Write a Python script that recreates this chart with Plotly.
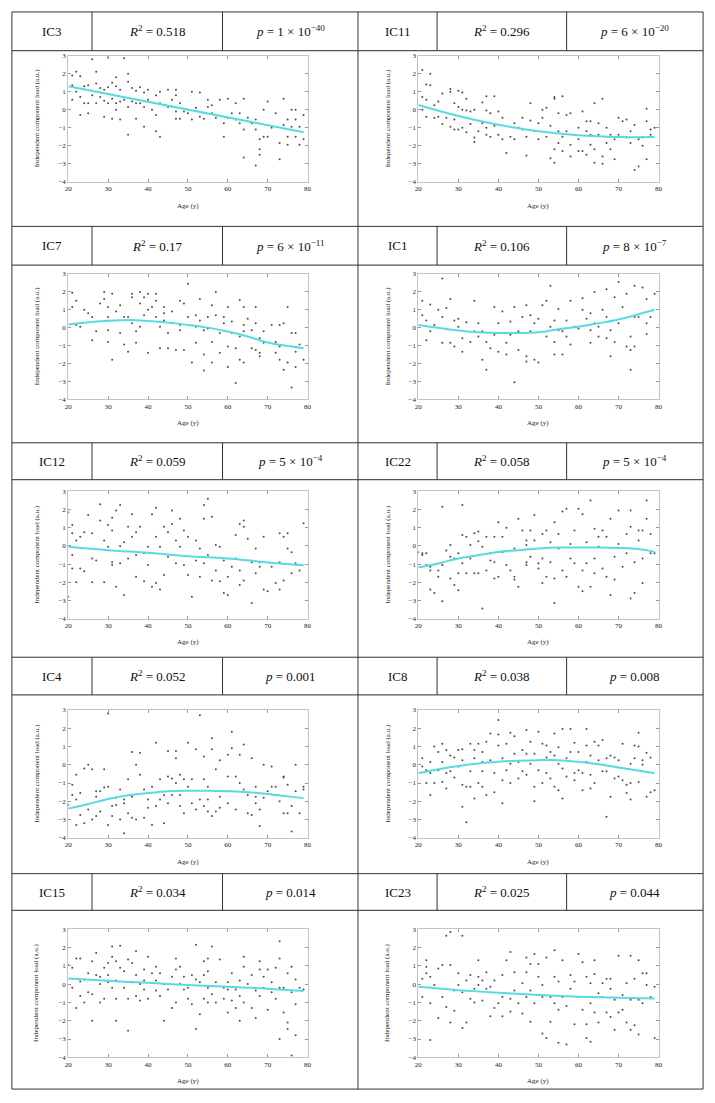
import plotly.graph_objects as go

W, H = 715, 1103

# ---------------- data ----------------
PANEL_NAMES = ["IC3", "IC11", "IC7", "IC1", "IC12", "IC22", "IC4", "IC8", "IC15", "IC23"]
R2_VALUES = ["0.518", "0.296", "0.17", "0.106", "0.059", "0.058", "0.052", "0.038", "0.034", "0.025"]
P_VALUES = ["1 × 10<sup>−40</sup>", "6 × 10<sup>−20</sup>", "6 × 10<sup>−11</sup>", "8 × 10<sup>−7</sup>",
            "5 × 10<sup>−4</sup>", "5 × 10<sup>−4</sup>", "0.001", "0.008", "0.014", "0.044"]
AGE_TICKS = [20, 30, 40, 50, 60, 70, 80]
LOAD_TICKS = [-4, -3, -2, -1, 0, 1, 2, 3]

IC3_points = [(22,2.1),(21,1.9),(23,1.85),(26,2.8),(27,2.1),(30,2.9),(34,2.85),(35,2.0),
 (21,1.35),(22,1.0),(24,1.3),(25,1.35),(27,1.45),(28,1.2),(29,1.1),(30,1.25),(31,1.5),(32,1.8),(32,1.3),(33,1.1),
 (35,1.55),(36,1.2),(37,1.05),(38,1.25),(39,0.95),(40,1.1),(42,0.8),(43,1.0),(45,1.1),(47,1.1),(47,0.8),(48,0.35),
 (51,1.0),(53,0.95),(21,0.55),(23,0.7),(24,0.35),(25,0.35),(26,0.8),(27,0.35),(28,0.7),(29,0.5),(30,0.35),(31,0.6),
 (32,0.35),(32,0.0),(33,0.45),(34,0.55),(35,0.15),(36,0.45),(37,0.35),(38,0.35),(39,0.15),(40,0.55),(41,0.0),
 (42,-0.3),(43,0.35),(44,0.25),(45,0.15),(46,0.55),(47,-0.1),(47,-0.5),(48,-0.5),(49,-0.1),(50,-0.2),(51,-0.55),
 (52,0.1),(53,-0.4),(54,-0.5),(55,0.55),(55,0.15),(56,-0.2),(56,0.25),(57,-0.45),(58,0.55),(59,-0.75),(59,-1.5),
 (60,0.6),(60,-0.45),(61,-0.2),(62,0.35),(62,-0.55),(63,-0.2),(63,-0.75),(64,-1.1),(64,0.6),(64,-2.65),(65,-0.45),
 (66,-0.75),(67,-0.55),(67,-3.1),(67,-1.1),(68,-1.65),(68,-2.2),(68,-2.5),(69,-1.5),(69,0.0),(70,-1.5),(70,0.45),
 (71,-1.0),(72,-0.2),(73,-2.75),(73,-1.85),(74,-0.85),(74,0.6),(75,-1.5),(75,-1.95),(75,-0.55),(76,-0.95),(76,0.0),
 (77,-1.5),(77,0.0),(77,-0.55),(78,-1.95),(78,-0.95),(79,-0.3),(79,-1.65),(35,-1.4),(39,-0.95),(42,-1.2),(43,-1.5),
 (29,-0.4),(31,-0.5),(33,-0.55),(23,-0.3),(25,-0.2),(37,-0.5)]
IC3_fit = [(20,1.3),(79,-1.25)]

IC11_points = [(21,2.2),(23,2.0),(22,1.4),(23,1.35),(21,0.7),(22,0.55),(24,0.25),(25,0.45),(26,0.9),(28,1.15),(28,1.0),
 (30,1.05),(31,0.95),(32,0.6),(29,0.35),(30,0.15),(31,0.0),(32,-0.05),(33,-0.1),(34,0.0),(36,0.4),(37,-0.05),(38,-0.2),
 (37,0.75),(39,0.75),(40,-0.1),(41,-0.45),(21,0.0),(22,-0.4),(24,-0.45),(25,-0.4),(26,-0.8),(27,-0.45),(28,-0.95),
 (29,-0.55),(29,-1.1),(30,-1.1),(31,-1.0),(32,-1.25),(33,-0.8),(34,-1.55),(34,-1.8),(35,-1.2),(36,-0.75),(37,-1.4),
 (37,-1.0),(38,-1.5),(39,-0.9),(40,-1.4),(41,-1.65),(42,-2.4),(43,-1.5),(44,-0.75),(44,-1.65),(45,-1.0),(46,-0.45),
 (46,-1.1),(47,-2.55),(47,-1.5),(48,0.35),(48,-0.6),(49,-1.2),(50,-1.65),(50,-0.75),(51,0.0),(51,-0.45),(52,0.1),
 (52,-1.5),(53,-0.9),(53,-2.7),(54,0.7),(54,-2.2),(54,0.6),(54,-2.95),(55,-1.85),(55,-0.2),(55,-1.2),(56,0.75),
 (56,-1.5),(56,-2.3),(57,-0.3),(57,-1.2),(58,-2.6),(58,-0.2),(58,-1.95),(59,-1.4),(60,-2.3),(60,-1.0),(60,-1.65),
 (61,-2.3),(61,-0.1),(62,-0.65),(62,-1.2),(62,-2.5),(63,-1.95),(63,-0.65),(63,-1.4),(64,0.35),(64,-2.2),(64,-2.95),
 (65,-0.75),(65,-1.4),(66,-2.6),(66,0.6),(66,-3.0),(67,-1.0),(67,-1.85),(68,-2.2),(68,-1.4),(69,-1.65),(69,-2.75),
 (70,-0.45),(70,-1.4),(71,-0.65),(72,-1.55),(72,-0.55),(73,-1.85),(73,-1.2),(74,-0.85),(74,-3.35),(75,-3.15),
 (75,-1.65),(76,-2.0),(76,-1.55),(77,0.05),(77,-0.65),(77,-2.75),(78,-1.1),(78,-1.4),(79,-1.0)]
IC11_fit = [(20,0.26),(30,-0.35),(40,-0.84),(50,-1.2),(60,-1.42),(70,-1.52),(79,-1.52)]

IC7_points = [(21,1.95),(22,1.5),(21,1.15),(22,0.15),(23,0.05),(24,1.0),(25,0.8),(26,0.6),(26,-0.7),(27,-0.2),(28,1.35),
 (29,1.6),(29,2.0),(30,0.6),(30,1.15),(30,-0.15),(30,-0.8),(31,-1.8),(31,1.9),(32,0.9),(33,1.25),(33,-0.3),(34,0.6),
 (34,-0.95),(35,0.6),(35,-1.35),(36,1.7),(36,1.9),(36,0.25),(37,-0.2),(37,-0.85),(38,2.0),(38,1.35),(38,0.05),(39,0.7),
 (39,1.7),(40,1.9),(40,1.0),(40,-1.4),(41,1.15),(42,0.6),(42,1.9),(42,1.5),(43,0.05),(43,-1.15),(44,1.15),(44,0.8),
 (44,0.4),(45,-1.15),(45,-0.3),(46,0.25),(46,0.9),(47,-1.25),(48,0.15),(48,1.5),(48,-0.15),(49,1.35),(49,-1.25),
 (50,2.45),(50,0.6),(51,-1.95),(52,0.05),(52,0.7),(52,-0.85),(53,0.4),(53,1.6),(54,-0.15),(54,-1.5),(54,-2.4),(55,0.6),
 (55,-0.05),(56,-0.8),(56,-1.95),(56,1.25),(57,2.0),(57,0.7),(58,-0.3),(58,-1.4),(59,0.25),(59,0.6),(60,1.15),(60,-1.05),
 (60,-2.2),(61,-0.3),(61,0.35),(62,-1.15),(62,-3.1),(63,1.55),(63,-1.8),(63,-0.5),(64,0.15),(64,1.15),(64,-1.95),
 (64,-0.2),(65,0.5),(66,-0.15),(66,-1.15),(67,1.15),(67,0.25),(67,-1.25),(68,-0.6),(68,-1.6),(68,-1.4),(69,-0.2),
 (69,-0.85),(71,0.15),(72,-0.8),(72,-1.4),(73,-1.8),(73,0.15),(73,-1.05),(74,-2.35),(74,0.25),(75,1.15),(75,-1.95),
 (76,-3.35),(76,-0.3),(77,-2.2),(77,-0.3),(77,-1.35),(78,-0.95),(79,-1.8)]
IC7_fit = [(20,0.18),(30,0.38),(37,0.42),(45,0.28),(50,0.15),(55,0.0),(60,-0.22),(65,-0.5),(70,-0.83),(79,-1.15)]

IC1_points = [(21,1.5),(21,0.7),(23,1.3),(22,0.4),(23,-0.2),(24,0.15),(22,-0.7),(25,1.0),(26,2.75),(26,0.6),(26,-0.85),
 (27,1.1),(28,1.6),(28,-0.85),(29,0.4),(29,-1.05),(30,0.5),(30,0.05),(31,-0.6),(31,-1.35),(32,0.3),(33,-0.8),(34,-0.2),
 (34,1.5),(35,0.25),(35,-0.5),(36,-1.8),(36,-0.2),(37,-2.35),(37,-0.8),(38,-1.15),(39,1.15),(39,-0.4),(40,-1.35),
 (40,0.25),(41,0.9),(42,-0.85),(42,-1.5),(43,0.35),(43,-0.4),(44,1.15),(44,-3.05),(45,-1.25),(45,-0.2),(46,0.6),
 (47,1.25),(47,-1.6),(47,-1.9),(48,-0.2),(48,0.7),(49,0.25),(49,-1.8),(50,-1.95),(50,0.5),(51,1.25),(52,-0.5),(52,1.5),
 (53,0.05),(53,2.35),(54,-1.5),(54,0.4),(54,-0.8),(55,1.05),(55,-0.15),(56,-1.5),(56,-0.2),(57,0.4),(57,-0.5),
 (58,1.5),(58,-0.95),(59,0.05),(60,-0.05),(61,1.0),(61,1.65),(62,0.5),(63,-0.85),(63,-0.15),(63,0.8),(64,2.0),
 (64,0.25),(65,-0.5),(65,0.05),(66,1.0),(67,-0.6),(67,2.15),(67,0.6),(68,-1.6),(68,-0.15),(69,1.7),(69,-0.8),(70,2.55),
 (70,0.25),(71,1.15),(72,1.9),(72,-1.05),(73,-0.5),(73,-2.35),(73,-1.25),(74,0.6),(74,2.35),(74,-1.05),(75,0.6),
 (76,2.25),(77,0.25),(77,-0.35),(77,1.6),(78,0.6),(79,1.9)]
IC1_fit = [(20,0.15),(29,-0.13),(35,-0.26),(40,-0.3),(45,-0.3),(50,-0.26),(55,-0.09),(60,0.05),(65,0.24),(70,0.46),(75,0.75),(79,1.0)]

IC12_points = [(20,1.85),(21,1.15),(21,-0.5),(21,0.7),(21,-1.25),(20,-2.8),(22,0.3),(22,-2.0),(23,0.5),(23,-1.25),
 (24,0.75),(24,-1.4),(25,1.7),(26,-0.7),(26,-2.0),(26,0.7),(27,-0.8),(28,2.3),(28,1.4),(29,0.3),(29,-2.0),(30,1.15),
 (30,-0.05),(31,1.55),(31,-0.9),(31,0.85),(31,-1.05),(32,1.95),(32,-2.25),(33,0.0),(33,2.25),(33,-0.95),(34,0.2),
 (34,-2.7),(35,1.05),(35,-0.7),(36,0.5),(36,1.75),(37,-0.5),(37,0.75),(37,-1.7),(38,1.05),(39,-0.4),(39,-1.95),
 (40,-0.05),(40,-1.05),(41,1.75),(41,-2.25),(42,0.5),(42,2.1),(42,-2.05),(43,-2.4),(43,-0.05),(44,1.05),(44,-1.6),
 (45,-0.6),(45,0.75),(46,1.95),(46,1.2),(47,0.3),(47,-0.95),(48,1.5),(48,-0.05),(49,-1.05),(49,0.85),(50,-1.6),
 (50,0.5),(51,-2.8),(52,0.3),(52,-0.8),(53,-1.7),(53,-0.15),(54,2.25),(54,1.5),(54,-0.95),(55,2.6),(55,-0.5),
 (56,-1.9),(56,1.6),(57,0.05),(57,-1.35),(58,-1.95),(58,-0.05),(59,-0.8),(59,-2.6),(60,-1.7),(60,-2.7),(61,-1.15),
 (62,0.6),(62,-0.7),(63,1.2),(63,-2.15),(63,-1.35),(64,1.05),(64,1.4),(64,-1.9),(65,0.4),(66,-0.9),(66,-3.15),
 (67,-0.15),(67,-1.5),(68,-1.15),(68,-0.9),(69,-2.4),(69,0.5),(70,-2.5),(71,-1.15),(72,-2.05),(73,-2.4),(73,0.7),
 (73,-0.9),(74,0.5),(74,-1.9),(75,0.7),(75,-0.15),(76,-1.5),(76,-0.35),(77,-0.95),(78,-1.35),(79,1.25)]
IC12_fit = [(20,-0.05),(30,-0.24),(40,-0.38),(50,-0.57),(60,-0.69),(70,-0.91),(79,-1.06)]

IC22_points = [(20,-0.35),(21,-0.5),(21,-0.4),(22,-1.05),(22,-0.4),(23,-1.15),(23,-1.35),(23,-2.4),(24,-2.6),(25,-1.7),
 (25,-1.35),(26,2.15),(26,-3.05),(26,-1.05),(27,-0.25),(28,-0.6),(28,0.05),(28,-1.8),(29,-2.15),(29,-0.7),(30,-2.45),
 (30,-1.5),(30,-0.4),(31,2.25),(31,0.6),(31,-0.95),(32,0.5),(32,-1.5),(33,-0.7),(33,0.05),(34,-1.5),(34,0.7),(35,-1.5),
 (35,0.25),(35,0.8),(36,-0.05),(36,-3.45),(37,-1.35),(37,0.5),(38,-0.4),(38,-0.8),(39,0.5),(39,-1.8),(39,-0.9),
 (40,1.3),(40,-1.7),(41,0.5),(41,-0.35),(42,-1.05),(42,1.0),(43,-1.35),(44,-1.85),(44,-1.7),(44,-0.15),(45,-2.25),
 (45,1.5),(46,0.85),(47,-0.9),(47,0.05),(47,0.3),(47,-1.05),(48,0.85),(48,-0.6),(49,1.7),(49,0.3),(50,-0.95),
 (50,-1.25),(51,0.65),(51,-2.05),(51,-0.7),(52,0.85),(52,-1.7),(53,-0.9),(53,0.2),(54,-3.15),(54,1.3),(54,-1.8),
 (55,-0.15),(55,0.65),(56,-1.35),(56,1.9),(57,-1.7),(57,2.05),(58,-0.7),(58,0.1),(59,0.85),(59,-0.95),(60,-2.25),
 (60,2.05),(61,-1.35),(61,-2.5),(61,1.75),(62,0.2),(62,-0.95),(63,2.5),(63,-2.25),(64,-0.7),(64,0.95),(64,-1.5),
 (65,0.5),(65,-0.05),(66,-1.25),(66,0.85),(67,-1.7),(67,0.5),(68,1.5),(68,-2.7),(69,-0.6),(69,-1.85),(70,1.95),
 (70,0.1),(71,-1.15),(72,0.65),(72,-0.4),(73,1.95),(73,-2.9),(73,1.05),(74,-0.9),(74,-2.6),(75,0.85),(75,0.3),
 (76,-0.7),(76,-2.05),(76,0.85),(77,1.5),(77,2.5),(78,-0.4),(78,0.65),(79,-0.4)]
IC22_fit = [(20,-1.19),(25,-0.97),(30,-0.69),(35,-0.51),(40,-0.33),(45,-0.24),(50,-0.14),(55,-0.09),(60,-0.09),(65,-0.09),(70,-0.11),(75,-0.17),(79,-0.33)]

IC4_points = [(20,-2.2),(21,-1.65),(21,-1.1),(22,-3.3),(22,-0.55),(22,-1.9),(23,-2.75),(23,-1.55),(24,-3.2),(24,-0.2),
 (25,0.0),(25,-2.45),(26,-3.0),(26,-0.25),(27,-1.75),(27,-2.8),(27,-1.45),(28,-2.55),(28,-1.45),(29,-0.25),(29,-1.25),
 (30,-3.3),(30,-1.2),(30,2.8),(31,-2.25),(31,-2.8),(32,-1.8),(32,-2.2),(33,-3.0),(33,-1.35),(34,-2.1),(34,-3.75),
 (34,-1.9),(35,-2.65),(35,-0.8),(36,-2.9),(36,0.7),(36,-1.75),(37,-3.0),(37,0.0),(38,-0.55),(38,0.65),(39,-1.35),
 (39,-2.9),(40,-2.35),(40,-1.9),(41,-1.2),(41,-3.3),(42,1.2),(42,-2.25),(43,-0.8),(43,-1.9),(44,-3.2),(44,-1.65),
 (45,-0.65),(45,0.75),(45,-2.1),(46,-0.75),(46,-1.65),(47,0.75),(47,0.35),(47,-1.0),(48,-2.25),(48,-0.55),(48,-1.65),
 (49,-0.8),(49,-2.65),(50,1.2),(50,-1.2),(51,-2.1),(51,-0.8),(52,-2.45),(52,0.85),(53,-1.9),(53,2.7),(54,-2.25),
 (54,-0.8),(54,0.45),(55,-1.2),(55,-2.55),(55,-1.9),(56,-2.8),(56,1.45),(56,0.85),(57,-0.25),(57,-2.55),(58,-1.75),
 (58,0.25),(58,-2.35),(59,-1.45),(60,-0.65),(60,0.55),(60,-2.1),(61,1.8),(61,0.9),(62,-0.65),(62,-2.45),(63,0.55),
 (63,-1.0),(64,1.1),(64,-1.35),(65,-2.65),(65,-1.65),(66,-2.75),(66,0.35),(67,-1.75),(67,-2.1),(67,-1.2),(68,-3.35),
 (68,-2.45),(69,-1.8),(69,0.0),(70,-1.45),(71,-0.1),(71,-1.2),(72,-1.65),(72,-1.2),(73,-2.0),(74,-0.7),(74,-0.65),
 (74,-2.65),(75,-1.1),(75,-2.65),(76,-2.25),(76,-3.65),(77,0.0),(77,-1.45),(78,-2.65),(79,-1.2),(79,-1.35)]
IC4_fit = [(20,-2.4),(25,-2.15),(30,-1.87),(35,-1.67),(40,-1.55),(45,-1.45),(50,-1.42),(55,-1.42),(60,-1.45),(65,-1.5),(70,-1.6),(75,-1.73),(79,-1.82)]

IC8_points = [(21,0.35),(21,-0.1),(22,-0.3),(22,-1.0),(23,0.15),(23,-1.65),(23,-0.45),(24,1.0),(24,-1.0),(25,0.7),
 (25,-0.3),(26,-0.95),(26,1.15),(26,0.15),(27,-1.3),(27,0.8),(27,-0.45),(28,0.5),(28,-0.35),(29,-0.7),(29,0.4),
 (30,0.8),(30,-0.1),(31,-2.3),(31,0.85),(31,-1.1),(31,0.25),(32,-3.15),(32,-1.2),(33,1.15),(33,-1.2),(33,-0.35),
 (34,0.8),(34,-1.85),(34,0.35),(35,1.15),(35,-1.0),(36,0.15),(36,0.7),(36,-1.2),(36,-0.35),(37,-1.65),(37,1.25),
 (38,1.7),(38,0.25),(39,-1.5),(39,-0.45),(40,1.05),(40,2.45),(40,1.65),(41,-0.85),(41,-2.1),(41,0.35),(42,1.15),
 (42,-0.3),(43,-1.0),(43,1.75),(43,0.05),(44,0.6),(44,1.55),(45,-0.75),(45,0.15),(46,0.8),(46,-0.35),(47,1.9),
 (47,0.6),(47,-0.55),(48,1.25),(48,0.05),(49,-1.2),(49,-2.0),(49,0.6),(50,1.8),(50,-0.3),(51,1.15),(51,-1.0),
 (52,0.4),(52,1.05),(52,-0.45),(53,0.7),(53,-0.75),(54,-1.2),(54,1.7),(54,0.5),(55,0.05),(55,0.95),(55,-1.4),
 (56,-1.85),(56,1.95),(56,-0.2),(57,0.35),(57,-0.65),(58,0.7),(58,1.95),(59,-0.45),(59,1.2),(59,-0.85),(60,0.7),
 (60,-0.3),(61,-0.45),(61,-1.4),(62,1.05),(62,0.15),(62,1.95),(63,-0.55),(63,-1.3),(63,0.5),(64,1.25),(64,-1.0),
 (65,0.25),(65,1.05),(66,-0.35),(66,1.35),(67,0.35),(67,-2.85),(67,-0.35),(68,0.5),(68,-1.75),(69,-0.75),(69,0.4),
 (70,-0.65),(70,0.25),(71,-0.85),(71,1.15),(72,-1.55),(72,-1.1),(73,-1.9),(73,0.05),(73,-1.0),(74,1.05),(74,0.35),
 (75,1.0),(75,1.75),(75,-0.95),(76,0.25),(76,0.0),(77,-1.75),(77,0.65),(78,-1.5),(78,0.4),(79,-1.4)]
IC8_fit = [(20,-0.47),(25,-0.25),(30,-0.07),(35,0.07),(40,0.16),(45,0.22),(50,0.25),(55,0.25),(60,0.16),(65,0.03),(70,-0.15),(74,-0.29),(79,-0.47)]

IC15_points = [(20,1.05),(21,0.9),(21,-0.2),(22,-1.3),(22,1.4),(23,1.4),(23,0.15),(23,-0.65),(24,0.25),(24,-1.0),
 (25,-0.45),(25,0.6),(26,-0.55),(26,-2.0),(26,1.25),(27,0.5),(27,1.7),(28,0.0),(28,-1.0),(28,0.4),(29,0.9),(29,-0.8),
 (30,0.1),(30,1.15),(30,0.5),(31,-0.2),(31,2.05),(31,1.5),(32,-0.8),(32,1.25),(32,-2.0),(32,0.2),(33,2.1),(33,0.9),
 (34,-0.2),(34,0.7),(35,-0.8),(35,-2.55),(35,1.35),(36,0.1),(36,1.15),(37,-0.65),(37,1.8),(37,0.5),(38,-0.9),(38,0.0),
 (39,0.8),(39,0.2),(39,-0.3),(40,1.5),(40,-0.8),(41,0.6),(42,0.2),(42,0.95),(42,-0.35),(43,0.6),(43,-0.65),(44,-2.0),
 (44,0.0),(45,-0.3),(46,0.4),(46,-1.3),(47,1.4),(47,0.8),(47,-1.0),(48,0.0),(48,0.95),(49,-0.3),(49,0.4),(50,-0.8),
 (50,-0.2),(51,0.5),(51,-1.1),(52,0.25),(52,2.15),(52,-2.45),(53,0.1),(53,-1.65),(54,0.5),(54,1.25),(54,-0.8),
 (55,-0.2),(55,0.7),(55,1.4),(55,-1.0),(56,2.05),(56,-0.55),(57,0.1),(57,-1.0),(58,1.35),(59,-0.2),(59,-0.8),(60,0.1),
 (60,-1.55),(60,-0.3),(61,0.6),(61,-0.9),(62,-0.3),(62,-1.3),(63,0.2),(63,-2.0),(63,-0.65),(64,0.95),(64,1.5),(64,-1.0),
 (65,0.0),(66,-1.3),(66,0.5),(67,-0.35),(67,-1.85),(68,0.8),(68,1.25),(68,-0.65),(69,0.4),(69,-0.2),(70,-1.4),(70,0.8),
 (71,0.1),(71,-0.45),(72,0.9),(72,-0.8),(73,-0.2),(73,2.35),(73,-3.0),(73,1.4),(74,-1.55),(74,-0.2),(75,-2.1),(75,0.6),
 (75,-2.45),(76,-0.45),(76,0.95),(76,-3.9),(77,-1.1),(77,-2.8),(77,0.25),(78,-0.2),(79,-0.3)]
IC15_fit = [(20,0.31),(30,0.18),(40,0.07),(50,-0.05),(60,-0.15),(70,-0.25),(79,-0.38)]

IC23_points = [(21,0.3),(21,-0.7),(22,0.95),(22,0.6),(22,1.3),(23,-1.05),(23,-3.05),(23,0.4),(24,-0.05),(25,-1.85),
 (25,0.85),(26,-0.7),(26,1.05),(27,-1.25),(27,2.65),(28,1.05),(28,2.85),(28,-2.1),(29,-0.35),(29,-1.45),(30,0.6),
 (30,-0.05),(31,-2.4),(31,2.65),(31,-0.45),(32,0.2),(32,-2.1),(33,-0.8),(33,0.5),(34,-0.25),(34,-1.0),(35,0.4),
 (35,1.3),(35,-0.05),(36,-0.9),(36,0.2),(37,-0.25),(37,0.65),(38,-0.15),(38,-1.75),(39,-1.3),(39,0.2),(40,-1.05),
 (41,-1.75),(41,0.5),(41,-0.7),(42,1.3),(43,-1.5),(43,1.75),(43,-0.8),(44,0.65),(44,-0.35),(45,-1.05),(46,-1.6),
 (46,0.05),(47,0.65),(47,-0.7),(47,1.45),(48,-0.35),(48,-2.05),(48,1.1),(49,1.65),(49,-1.05),(50,1.1),(50,0.4),
 (51,-2.7),(51,-0.7),(51,-0.05),(52,1.45),(52,-2.95),(53,-2.05),(53,-0.7),(54,1.85),(54,-1.05),(54,0.4),(55,-1.4),
 (55,-3.2),(55,0.15),(56,1.3),(56,-0.7),(57,-3.3),(57,-1.2),(58,0.5),(58,-0.25),(59,-2.2),(59,0.15),(60,1.65),
 (60,-0.7),(61,1.2),(61,-1.4),(62,-2.2),(62,-2.95),(62,0.4),(63,-1.05),(63,-3.15),(63,0.05),(64,1.3),(64,-1.55),
 (64,0.55),(65,-0.5),(65,-2.1),(66,0.05),(66,-0.7),(67,0.3),(67,-1.55),(68,-0.25),(68,-1.8),(68,0.3),(69,-2.5),
 (69,-0.85),(70,1.55),(70,-1.55),(71,-0.6),(71,-1.4),(72,0.05),(72,-2.1),(73,1.55),(73,-0.85),(73,-2.5),(74,0.3),
 (74,-2.25),(75,1.3),(75,-0.85),(75,-2.75),(76,0.6),(76,-1.05),(77,-0.05),(77,0.6),(78,-0.7),(79,-0.15),(79,-2.95)]
IC23_fit = [(20,-0.15),(30,-0.33),(40,-0.47),(50,-0.6),(60,-0.69),(70,-0.74),(79,-0.78)]

PANEL_POINTS = [IC3_points, IC11_points, IC7_points, IC1_points, IC12_points,
                IC22_points, IC4_points, IC8_points, IC15_points, IC23_points]
PANEL_FITS = [IC3_fit, IC11_fit, IC7_fit, IC1_fit, IC12_fit,
              IC22_fit, IC4_fit, IC8_fit, IC15_fit, IC23_fit]

# ---------------- layout geometry (pixels) ----------------
COL_X = [(65, 307), (419, 662)]
ROW_Y = [(52, 179), (272, 398), (491, 619), (711, 840), (932, 1061)]
ROW_TOPS = [8, 224, 442, 658, 876]
HEAD_BOTS = [47, 263, 479, 696, 913]
TABLE_BOTTOM = 1093
TABLE_LEFT, TABLE_MID, TABLE_RIGHT = 8, 358, 707
HEAD_DIVS = [(89, 221), (438, 569)]
YTITLE_X = [33, 388]

SERIF = "Liberation Serif, Times New Roman, serif"
FIT_COLOR = "#55dce2"


def px(x):
    return x / W


def py(y):
    return 1 - y / H


fig = go.Figure()
layout = dict(width=W, height=H, margin=dict(l=0, r=0, t=0, b=0),
              paper_bgcolor="white", plot_bgcolor="white", showlegend=False)
annotations = []
shapes = []


def add_text(x, y, text, size, angle=0, color="#222"):
    annotations.append(dict(x=px(x), y=py(y), xref="paper", yref="paper", text=text,
                            textangle=angle, showarrow=False, xanchor="center", yanchor="middle",
                            font=dict(family=SERIF, size=size, color=color)))


for i in range(10):
    row, col = divmod(i, 2)
    k = "" if i == 0 else str(i + 1)
    x0, x1 = COL_X[col]
    y0, y1 = ROW_Y[row]
    axis_common = dict(showline=True, linecolor="#c4c4c4", linewidth=1, mirror="ticks",
                       ticks="inside", ticklen=3, tickcolor="#9a9a9a", tickwidth=1,
                       showgrid=False, zeroline=False,
                       tickfont=dict(family=SERIF, size=7, color="#222"))
    layout["xaxis" + k] = dict(axis_common, domain=[px(x0), px(x1)], range=[20, 80],
                               tickvals=AGE_TICKS, anchor="y" + k)
    layout["yaxis" + k] = dict(axis_common, domain=[py(y1), py(y0)], range=[-4, 3],
                               tickvals=LOAD_TICKS, anchor="x" + k)
    pts = PANEL_POINTS[i]
    fig.add_trace(go.Scatter(x=[p[0] for p in pts], y=[p[1] for p in pts], mode="markers",
                             marker=dict(size=2, color="rgba(30,30,30,0.8)"),
                             xaxis="x" + k, yaxis="y" + k, hoverinfo="skip"))
    fit = PANEL_FITS[i]
    fig.add_trace(go.Scatter(x=[p[0] for p in fit], y=[p[1] for p in fit], mode="lines",
                             line=dict(color=FIT_COLOR, width=2, shape="spline", smoothing=1.0),
                             xaxis="x" + k, yaxis="y" + k, hoverinfo="skip"))
    # axis titles
    add_text(YTITLE_X[col], (y0 + y1) / 2, "Independent component load (a.u.)", 7, angle=-90)
    add_text((x0 + x1) / 2, y1 + 24, "Age (y)", 7)
    # header cells
    left = TABLE_LEFT if col == 0 else TABLE_MID
    right = TABLE_MID if col == 0 else TABLE_RIGHT
    d1, d2 = HEAD_DIVS[col]
    hy = (ROW_TOPS[row] + HEAD_BOTS[row]) / 2
    add_text((left + d1) / 2, hy, PANEL_NAMES[i], 13, color="#111")
    add_text((d1 + d2) / 2, hy, "<i>R</i><sup>2</sup> = " + R2_VALUES[i], 13, color="#111")
    add_text((d2 + right) / 2, hy, "<i>p</i> = " + P_VALUES[i], 13, color="#111")


def hline(y, xa, xb, color="#333", width=1):
    shapes.append(dict(type="line", xref="paper", yref="paper", x0=px(xa), x1=px(xb),
                       y0=py(y), y1=py(y), line=dict(color=color, width=width)))


def vline(x, ya, yb, color="#333", width=1):
    shapes.append(dict(type="line", xref="paper", yref="paper", x0=px(x), x1=px(x),
                       y0=py(ya), y1=py(yb), line=dict(color=color, width=width)))


for r in range(5):
    hline(ROW_TOPS[r], TABLE_LEFT, TABLE_RIGHT)
    hline(HEAD_BOTS[r], TABLE_LEFT, TABLE_RIGHT, color="#555", width=1.3)
    for (d1, d2) in HEAD_DIVS:
        vline(d1, ROW_TOPS[r], HEAD_BOTS[r])
        vline(d2, ROW_TOPS[r], HEAD_BOTS[r])
hline(TABLE_BOTTOM, TABLE_LEFT, TABLE_RIGHT)
for x in (TABLE_LEFT, TABLE_MID, TABLE_RIGHT):
    vline(x, ROW_TOPS[0], TABLE_BOTTOM)

layout["annotations"] = annotations
layout["shapes"] = shapes
fig.update_layout(**layout)
fig.write_html("out.html", config={"displayModeBar": False},
               post_script="document.body.style.margin='0';document.body.style.overflow='hidden';")
